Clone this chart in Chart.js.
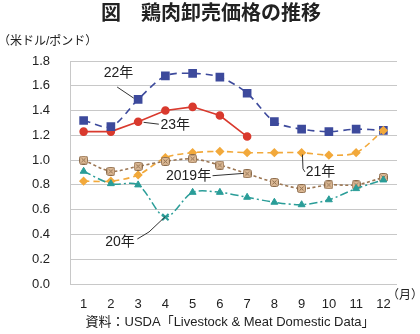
<!DOCTYPE html>
<html>
<head>
<meta charset="utf-8">
<script src="https://cdn.jsdelivr.net/npm/chart.js@4/dist/chart.umd.min.js"></script>
<style>
  body { margin: 0; background: #fff; }
  #wrap { width: 420px; height: 334px; }
</style>
</head>
<body>
<div id="wrap"><canvas id="myChart" width="420" height="334"></canvas></div>
<script>
// data
const months = ["1", "2", "3", "4", "5", "6", "7", "8", "9", "10", "11", "12"];
const yTicks = [0, 0.2, 0.4, 0.6, 0.8, 1.0, 1.2, 1.4, 1.6, 1.8];

const y2019 = [1.00, 0.91, 0.95, 0.99, 1.01, 0.96, 0.89, 0.82, 0.77, 0.80, 0.80, 0.86];
const y2020 = [0.91, 0.81, 0.80, 0.54, 0.74, 0.74, 0.70, 0.66, 0.64, 0.68, 0.77, 0.84];
const y2021 = [0.83, 0.83, 0.88, 1.02, 1.06, 1.07, 1.06, 1.06, 1.06, 1.04, 1.06, 1.24];
const y2022 = [1.32, 1.27, 1.49, 1.68, 1.70, 1.67, 1.54, 1.31, 1.25, 1.23, 1.25, 1.24];
const y2023 = [1.23, 1.23, 1.31, 1.40, 1.43, 1.36, 1.19];

// labels with leader lines: [text, textX(idx), textY(value), align, leader points]
const callouts = [
  ["22年", 1.28, 1.70, "center", [[1.23, 1.59], [1.84, 1.50]]],
  ["23年", 2.82, 1.28, "left", [[2.2, 1.305], [2.76, 1.29]]],
  ["2019年", 4.68, 0.87, "right", [[4.73, 0.874], [5.88, 0.893]]],
  ["21年", 8.15, 0.90, "left", [[8.03, 1.045], [8.05, 0.93], [8.12, 0.905]]],
  ["20年", 1.88, 0.34, "right", [[1.97, 0.363], [2.4, 0.42], [3.0, 0.545]]]
];

const FONT = "'Liberation Sans', 'Noto Sans CJK JP', sans-serif";

// tan box with an x for 2019
function boxX() {
  const c = document.createElement("canvas");
  c.width = 9; c.height = 9;
  const g = c.getContext("2d");
  g.fillStyle = "#dcb995";
  g.strokeStyle = "#8a6a4a";
  g.lineWidth = 1;
  g.beginPath();
  g.roundRect(0.5, 0.5, 8, 8, 2);
  g.fill(); g.stroke();
  g.beginPath();
  g.moveTo(2.5, 2.5); g.lineTo(6.5, 6.5);
  g.moveTo(6.5, 2.5); g.lineTo(2.5, 6.5);
  g.stroke();
  return c;
}

const textPlugin = {
  id: "texts",
  afterDatasetsDraw(chart) {
    const ctx = chart.ctx;
    const xs = chart.scales.x, ys = chart.scales.y;
    ctx.save();
    callouts.forEach(([t, tx, ty, align, pts]) => {
      ctx.strokeStyle = "#333";
      ctx.lineWidth = 1;
      ctx.beginPath();
      pts.forEach(([i, v], k) => {
        const px = xs.getPixelForValue(i), py = ys.getPixelForValue(v);
        if (k === 0) ctx.moveTo(px, py); else ctx.lineTo(px, py);
      });
      ctx.stroke();
      ctx.font = "14px " + FONT;
      ctx.fillStyle = "#222";
      ctx.textAlign = align;
      ctx.textBaseline = "middle";
      ctx.fillText(t, xs.getPixelForValue(tx), ys.getPixelForValue(ty));
    });

    ctx.fillStyle = "#222";
    ctx.textBaseline = "middle";
    ctx.textAlign = "center";
    ctx.font = "bold 20px " + FONT;
    ctx.fillText("図　鶏肉卸売価格の推移", 211, 14);
    ctx.textAlign = "left";
    ctx.font = "12px " + FONT;
    ctx.fillText("（米ドル/ポンド）", -2, 42);
    ctx.fillText("（月）", 387, 296);
    ctx.textAlign = "center";
    ctx.font = "13px " + FONT;
    ctx.fillText("資料：USDA「Livestock & Meat Domestic Data」", 230, 322);
    ctx.restore();
  }
};

const ctx = document.getElementById("myChart").getContext("2d");

new Chart(ctx, {
  type: "line",
  data: {
    labels: months,
    datasets: [
      {
        label: "20年", data: y2020, borderColor: "#2a9d98", backgroundColor: "#2a9d98",
        borderWidth: 1.5, borderDash: [8, 3, 2, 3], tension: 0.3,
        pointStyle: c => c.dataIndex === 3 ? "crossRot" : "triangle",
        pointRadius: c => c.dataIndex === 3 ? 4.5 : 4,
        pointBorderWidth: c => c.dataIndex === 3 ? 2 : 1
      },
      {
        label: "2019年", data: y2019, borderColor: "#9b7653", backgroundColor: "#dcb995",
        borderWidth: 1.6, borderDash: [3, 2.5], tension: 0.3,
        pointStyle: boxX(), pointRadius: 4.5
      },
      {
        label: "21年", data: y2021, borderColor: "#f2a93b", backgroundColor: "#f2a93b",
        borderWidth: 1.6, borderDash: [6, 4], tension: 0.3,
        pointStyle: "rectRot", pointRadius: 3.5
      },
      {
        label: "22年", data: y2022, borderColor: "#3d4a9c", backgroundColor: "#3d4a9c",
        borderWidth: 1.6, borderDash: [7, 5], tension: 0.3,
        pointStyle: "rect", pointRadius: 5
      },
      {
        label: "23年", data: y2023, borderColor: "#d93a2e", backgroundColor: "#d93a2e",
        borderWidth: 1.6, tension: 0,
        pointStyle: "circle", pointRadius: 3.5
      }
    ]
  },
  options: {
    responsive: false,
    devicePixelRatio: 1,
    animation: false,
    layout: { padding: { top: 61, left: 0, right: 23, bottom: 0 } },
    plugins: { legend: { display: false }, tooltip: { enabled: false } },
    scales: {
      x: {
        offset: true,
        grid: { display: false },
        border: { display: false },
        ticks: { color: "#222", font: { family: FONT, size: 13 }, padding: 5, maxRotation: 0 },
        afterFit: s => { s.height = 50; }
      },
      y: {
        min: 0, max: 1.8,
        afterBuildTicks: s => { s.ticks = yTicks.map(v => ({ value: v })); },
        grid: { color: "#c8c8c8", lineWidth: 1, drawTicks: false },
        border: { display: true, color: "#c8c8c8" },
        ticks: { color: "#222", font: { family: FONT, size: 13 }, padding: 20, callback: v => v.toFixed(1) },
        afterFit: s => { s.width = 70; }
      }
    }
  },
  plugins: [textPlugin]
});
</script>
</body>
</html>
